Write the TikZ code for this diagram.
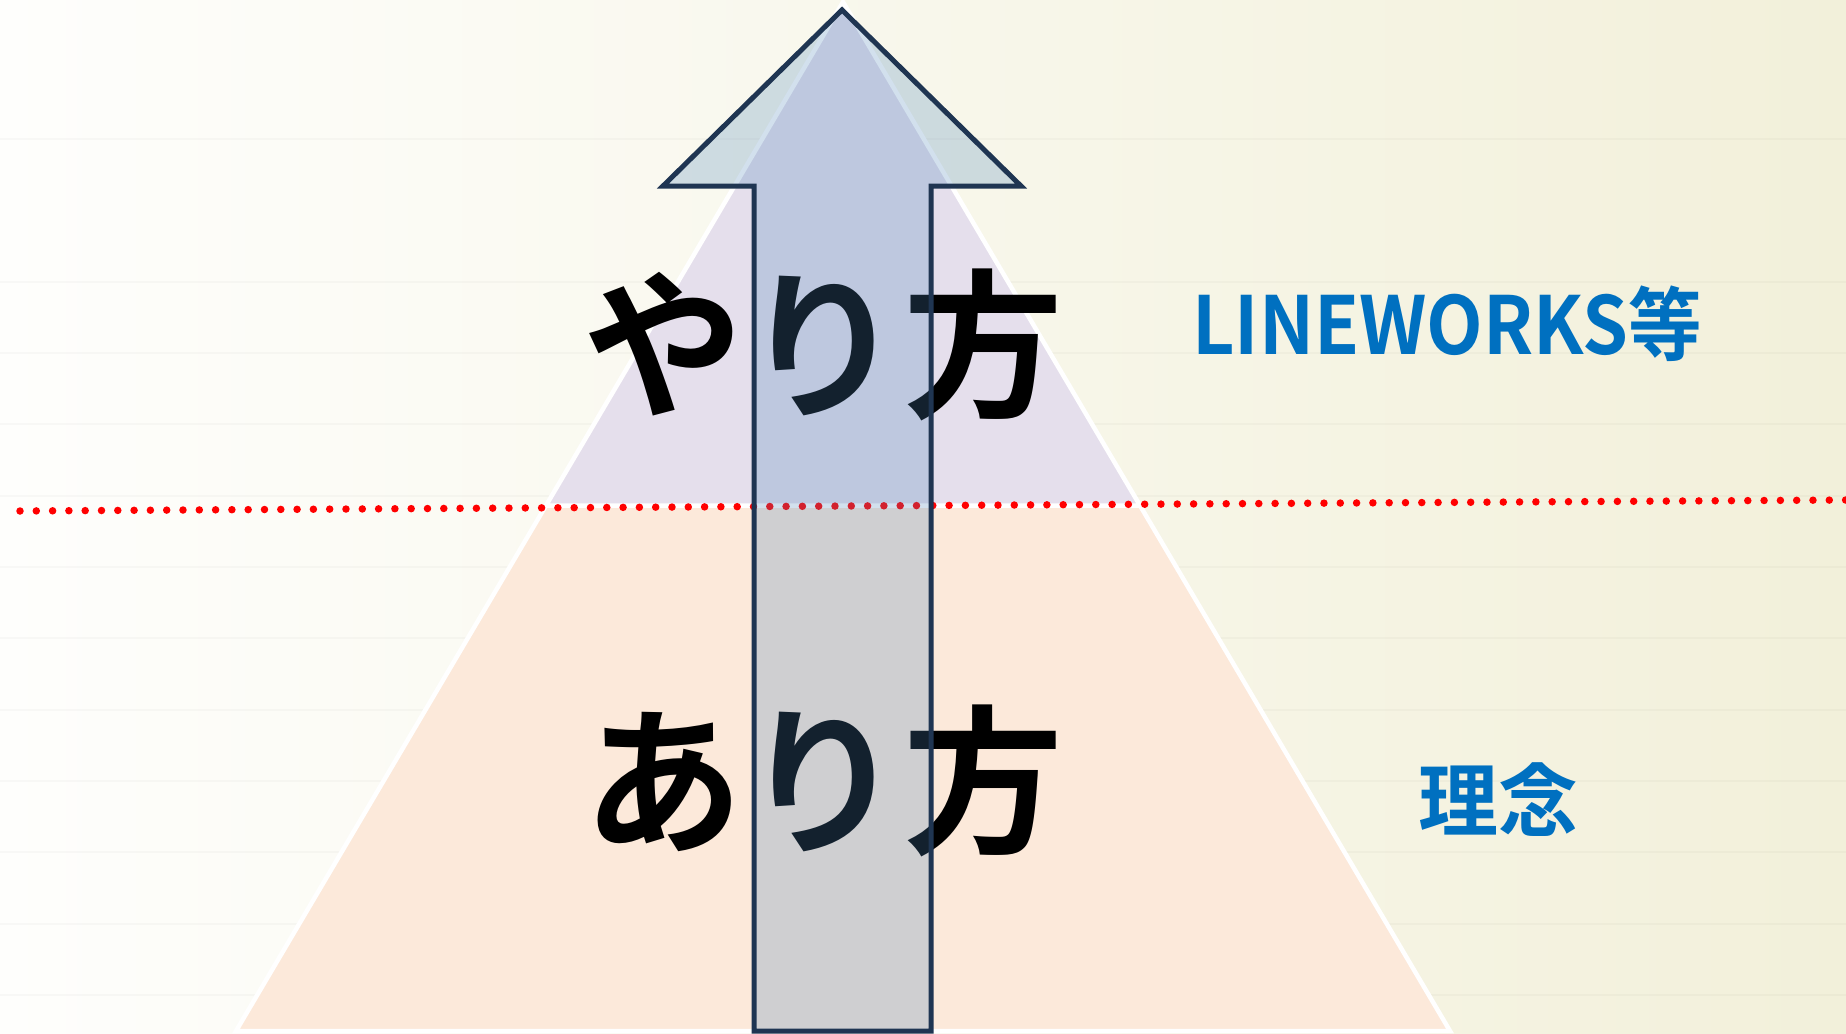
\documentclass[tikz,border=0pt]{standalone}
\usepackage{fontspec}
\newfontfamily\jpb{Noto Sans CJK JP Bold}
\definecolor{bgL}{RGB}{254,254,252}
\definecolor{bgM}{RGB}{248,247,236}
\definecolor{bgR}{RGB}{242,240,218}
\definecolor{lav}{RGB}{229,223,236}
\definecolor{peach}{RGB}{252,233,218}
\definecolor{arrfill}{RGB}{76,133,186}
\definecolor{arrline}{RGB}{31,53,82}
\definecolor{labelblue}{RGB}{0,112,192}
\begin{document}
\begin{tikzpicture}[x=1pt,y=-1pt,
  gridline/.style={draw=black,draw opacity=0.025,line width=2pt},
  tier/.style={draw=white,line width=4.5pt,line join=miter},
  dotline/.style={draw=red,line width=7.5pt,line cap=round,dash pattern=on 0pt off 16.3pt},
  arrowshape/.style={draw=arrline,line width=5pt,line join=miter,fill=arrfill,fill opacity=0.25,draw opacity=1},
  bigtxt/.style={font=\jpb\fontsize{160}{160}\selectfont,inner sep=0pt,text=black},
  bluetxt/.style={font=\jpb\fontsize{80}{80}\selectfont,inner sep=0pt,text=labelblue}]
\useasboundingbox (0,0) rectangle (1846,1033);
% background
\fill[left color=bgL,middle color=bgM,right color=bgR] (0,0) rectangle (1846,1033);
\foreach \yy in {139,282,353,424,496,567,638,710,781,852,924,995}
  \draw[gridline] (0,\yy) -- (1846,\yy);
% pyramid
\fill[peach] (546,505.5) -- (1140,505.5) -- (1450,1031) -- (236,1031) -- cycle;
\draw[tier] (546,505.5) -- (1140,505.5) -- (1450,1031) -- (236,1031) -- cycle;
\fill[lav] (843,2) -- (1140,505.5) -- (546,505.5) -- cycle;
\draw[tier] (843,2) -- (1140,505.5) -- (546,505.5) -- cycle;
% dotted separator
\coordinate (dl) at (20,511);
\coordinate (dr) at (1846,500);
\draw[dotline] (dl) -- (dr);
% texts
\node[bigtxt,anchor=base] (yari) at (823,405) {やり方};
\node[bigtxt,anchor=base] (ari) at (823,841) {あり方};
\node[bluetxt,anchor=base west] (lw) at (1192,354) {\scalebox{0.92}[1]{LINEWORKS等}};
\node[bluetxt,anchor=base] (rinen) at (1498,830) {理念};
% arrow
\draw[arrowshape] (842,10) -- (1021,186) -- (931,186) -- (931,1031) -- (754,1031) -- (754,186) -- (663,186) -- cycle;
\end{tikzpicture}
\end{document}
